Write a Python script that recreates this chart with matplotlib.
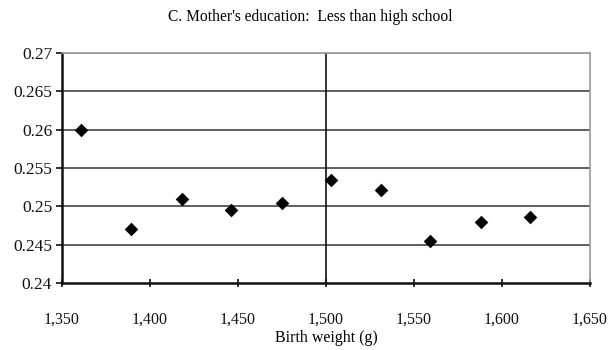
import matplotlib
matplotlib.use("Agg")
import matplotlib.pyplot as plt
from matplotlib.ticker import FuncFormatter

birth_weight = [1361, 1389, 1418, 1446, 1475, 1503, 1531, 1559, 1588, 1616]
share = [0.2600, 0.2471, 0.2509, 0.2495, 0.2505, 0.2534, 0.2521, 0.2455, 0.2480, 0.2486]
x_ticks = [1350, 1400, 1450, 1500, 1550, 1600, 1650]
y_ticks = [0.24, 0.245, 0.25, 0.255, 0.26, 0.265, 0.27]
cutoff = 1500

plt.rcParams['font.family'] = ['Liberation Serif', 'DejaVu Serif']

fig = plt.figure(figsize=(6.16, 3.5), dpi=100)
ax = fig.add_axes([0.1006, 0.1914, 0.8572, 0.6572])

for y in y_ticks[1:]:
    ax.axhline(y, color='#333333' if y != 0.27 else '#999999', lw=1.1, zorder=1)
ax.axvline(cutoff, color='#111111', lw=1.2, zorder=1)

ax.scatter(birth_weight, share, marker='D', s=48, color='black', zorder=3, linewidths=0)

ax.set_xlim(1350, 1650)
ax.set_ylim(0.24, 0.27)
ax.set_xticks(x_ticks)
ax.set_yticks(y_ticks)
ax.xaxis.set_major_formatter(FuncFormatter(lambda v, p: f"{int(v):,}"))
ax.yaxis.set_major_formatter(FuncFormatter(lambda v, p: f"{v:g}"))

for s in ['top', 'right']:
    ax.spines[s].set_color('#999999')
    ax.spines[s].set_linewidth(1.2)
for s in ['left', 'bottom']:
    ax.spines[s].set_color('#111111')
    ax.spines[s].set_linewidth(1.8)

ax.tick_params(axis='x', direction='inout', length=6, width=1.2, labelsize=11.5, pad=17.5, colors='#111111')
ax.tick_params(axis='y', direction='out', length=4, width=1.2, labelsize=12.5, pad=3, colors='#111111')

ax.set_xlabel('Birth weight (g)', fontsize=11.5, labelpad=2)
fig.suptitle("C. Mother's education:  Less than high school", fontsize=11.2, x=0.503, y=0.975)

fig.savefig('out.png', dpi=100)
